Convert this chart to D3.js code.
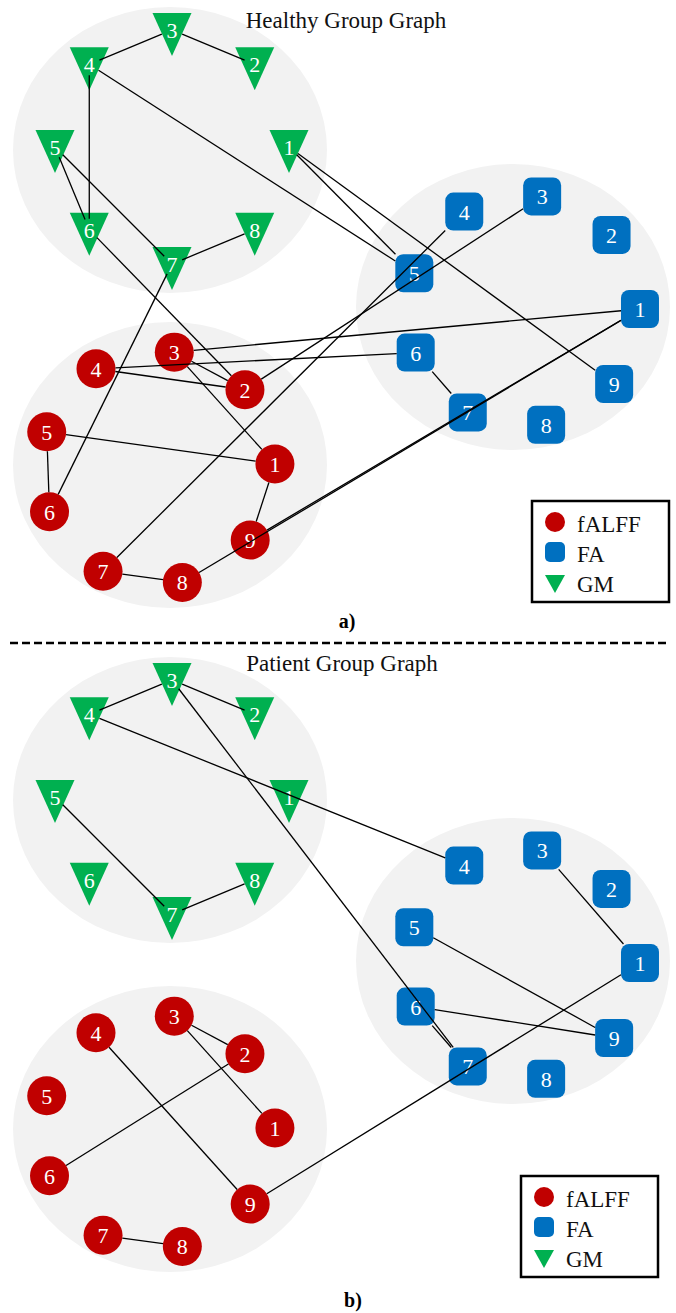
<!DOCTYPE html>
<html>
<head>
<meta charset="utf-8">
<script src="https://cdn.jsdelivr.net/npm/d3@7"></script>
<style>
  body { margin: 0; background: #fff; }
  text { font-family: "Liberation Serif", "Times New Roman", serif; }
</style>
</head>
<body>
<script>
// node groups and their labels
var modalities = ["fALFF", "FA", "GM"];
var nodeCounts = [9, 9, 8];
// clockwise order of the node labels round each ring, starting at the top
var ringOrderGM = [3, 2, 1, 8, 7, 6, 5, 4];
var ringOrderNine = [3, 2, 1, 9, 8, 7, 6, 5, 4];

var panelTitles = ["Healthy Group Graph", "Patient Group Graph"];
var panelTags = ["a)", "b)"];

// connections
var healthyEdges = [
  "GM4-GM3", "GM3-GM2", "GM4-GM6", "GM5-GM6", "GM5-GM7", "GM7-GM8",
  "GM4-FA5", "GM1-FA5", "GM1-FA9", "GM6-fALFF2", "GM7-fALFF6",
  "FA6-FA7", "FA4-fALFF7", "FA3-fALFF2", "FA1-fALFF3", "FA6-fALFF4",
  "FA1-fALFF8", "FA1-fALFF9",
  "fALFF4-fALFF2", "fALFF3-fALFF2", "fALFF3-fALFF1", "fALFF5-fALFF1",
  "fALFF5-fALFF6", "fALFF1-fALFF9", "fALFF7-fALFF8"
];
var patientEdges = [
  "GM4-GM3", "GM3-GM2", "GM5-GM7", "GM7-GM8", "GM4-FA4", "GM3-FA7",
  "FA3-FA1", "FA5-FA9", "FA6-FA9", "FA6-FA7", "FA1-fALFF9",
  "fALFF3-fALFF2", "fALFF3-fALFF1", "fALFF2-fALFF6", "fALFF4-fALFF9", "fALFF7-fALFF8"
];

var W = 676, H = 1313;

var svg = d3.select("body")
  .append("svg")
  .attr("width", W)
  .attr("height", H);

var color = d3.scaleOrdinal()
  .domain(modalities)
  .range(["#C00000", "#0070C0", "#00B050"]);

// layout of each panel
var panels = [
  { title: panelTitles[0], tag: panelTags[0], edges: healthyEdges,
    titleX: 346, titleY: 28, tagX: 347, tagY: 628, legend: [532, 501],
    groups: { GM: [170, 150], FA: [513, 307], fALFF: [170, 465] } },
  { title: panelTitles[1], tag: panelTags[1], edges: patientEdges,
    titleX: 342, titleY: 671, tagX: 353, tagY: 1307, legend: [521, 1176],
    groups: { GM: [170, 800], FA: [513, 961], fALFF: [170, 1129] } }
];

var ring = {
  GM:    { order: ringOrderGM,   dx: 2,   dy: -3, r: 117, start: -90 },
  FA:    { order: ringOrderNine, dx: 11,  dy: 4,  r: 116, start: -81 },
  fALFF: { order: ringOrderNine, dx: -12, dy: 3,  r: 117, start: -82 }
};

function nodePos(panel, mod, n) {
  var g = panel.groups[mod], rg = ring[mod];
  var angle = d3.scaleLinear().domain([0, rg.order.length]).range([rg.start, rg.start + 360]);
  var a = angle(rg.order.indexOf(n)) * Math.PI / 180;
  return [g[0] + rg.dx + rg.r * Math.cos(a), g[1] + rg.dy + rg.r * Math.sin(a)];
}

function parseId(id) {
  var m = id.match(/^(fALFF|FA|GM)(\d+)$/);
  return { mod: m[1], n: +m[2] };
}

// how far from the node point a line stops
function clipDist(mod, ux, uy) {
  if (mod === "fALFF") return 19.5;
  if (mod === "FA") return Math.min(19 / Math.max(Math.abs(ux), 1e-6), 19 / Math.max(Math.abs(uy), 1e-6));
  return 11;
}

function triPath(x, y, hw, top, tip) {
  return "M" + (x - hw) + "," + (y - top) + "L" + (x + hw) + "," + (y - top) + "L" + x + "," + (y + tip) + "Z";
}

panels.forEach(function(panel) {
  var g = svg.append("g");

  // group backgrounds
  modalities.forEach(function(mod) {
    g.append("ellipse")
      .attr("cx", panel.groups[mod][0])
      .attr("cy", panel.groups[mod][1])
      .attr("rx", 157)
      .attr("ry", 143)
      .attr("fill", "#F2F2F2");
  });

  // nodes
  var nodes = [];
  modalities.forEach(function(mod, k) {
    d3.range(1, nodeCounts[k] + 1).forEach(function(n) {
      var p = nodePos(panel, mod, n);
      nodes.push({ mod: mod, n: n, x: p[0], y: p[1] });
    });
  });

  var nodeG = g.selectAll("g.node")
    .data(nodes)
    .enter()
    .append("g")
    .attr("class", "node");

  nodeG.each(function(d) {
    var s = d3.select(this);
    if (d.mod === "fALFF") {
      s.append("circle").attr("cx", d.x).attr("cy", d.y).attr("r", 19.5).attr("fill", color(d.mod));
    } else if (d.mod === "FA") {
      s.append("rect").attr("x", d.x - 19).attr("y", d.y - 19).attr("width", 38).attr("height", 38)
        .attr("rx", 8).attr("fill", color(d.mod));
    } else {
      s.append("path").attr("d", triPath(d.x, d.y, 19.5, 17, 26)).attr("fill", color(d.mod));
    }
  });

  nodeG.append("text")
    .attr("x", function(d) { return d.x; })
    .attr("y", function(d) { return d.y + 8; })
    .attr("text-anchor", "middle")
    .attr("fill", "#fff")
    .style("font-size", "22px")
    .text(function(d) { return d.n; });

  // edges drawn over the nodes
  g.selectAll("line.edge")
    .data(panel.edges)
    .enter()
    .append("line")
    .attr("class", "edge")
    .each(function(e) {
      var ends = e.split("-").map(parseId);
      var a = nodePos(panel, ends[0].mod, ends[0].n);
      var b = nodePos(panel, ends[1].mod, ends[1].n);
      var len = Math.hypot(b[0] - a[0], b[1] - a[1]);
      var ux = (b[0] - a[0]) / len, uy = (b[1] - a[1]) / len;
      var da = clipDist(ends[0].mod, ux, uy), db = clipDist(ends[1].mod, ux, uy);
      d3.select(this)
        .attr("x1", a[0] + ux * da).attr("y1", a[1] + uy * da)
        .attr("x2", b[0] - ux * db).attr("y2", b[1] - uy * db);
    })
    .attr("stroke", "#000")
    .attr("stroke-width", 1.3);

  // title
  g.append("text")
    .attr("x", panel.titleX)
    .attr("y", panel.titleY)
    .attr("text-anchor", "middle")
    .style("font-size", "23px")
    .attr("fill", "#111")
    .text(panel.title);

  // tag
  g.append("text")
    .attr("x", panel.tagX)
    .attr("y", panel.tagY)
    .attr("text-anchor", "middle")
    .style("font-size", "20px")
    .style("font-weight", "bold")
    .text(panel.tag);

  // legend
  var lg = g.append("g").attr("transform", "translate(" + panel.legend[0] + "," + panel.legend[1] + ")");
  lg.append("rect")
    .attr("width", 137).attr("height", 101)
    .attr("fill", "#fff").attr("stroke", "#000").attr("stroke-width", 2.5);
  lg.append("circle").attr("cx", 23).attr("cy", 21).attr("r", 10).attr("fill", color("fALFF"));
  lg.append("rect").attr("x", 13).attr("y", 41).attr("width", 20).attr("height", 20).attr("rx", 5)
    .attr("fill", color("FA"));
  lg.append("path").attr("d", triPath(23, 74, 10, 0, 18)).attr("fill", color("GM"));
  lg.selectAll("text.leg")
    .data(modalities)
    .enter()
    .append("text")
    .attr("class", "leg")
    .attr("x", 45)
    .attr("y", function(d, i) { return 31 + i * 30; })
    .style("font-size", "23px")
    .attr("fill", "#111")
    .text(function(d) { return d; });
});

// divider between the two panels
svg.append("line")
  .attr("x1", 10).attr("x2", 668)
  .attr("y1", 643).attr("y2", 643)
  .attr("stroke", "#000")
  .attr("stroke-width", 2.5)
  .attr("stroke-dasharray", "8,4");
</script>
</body>
</html>
